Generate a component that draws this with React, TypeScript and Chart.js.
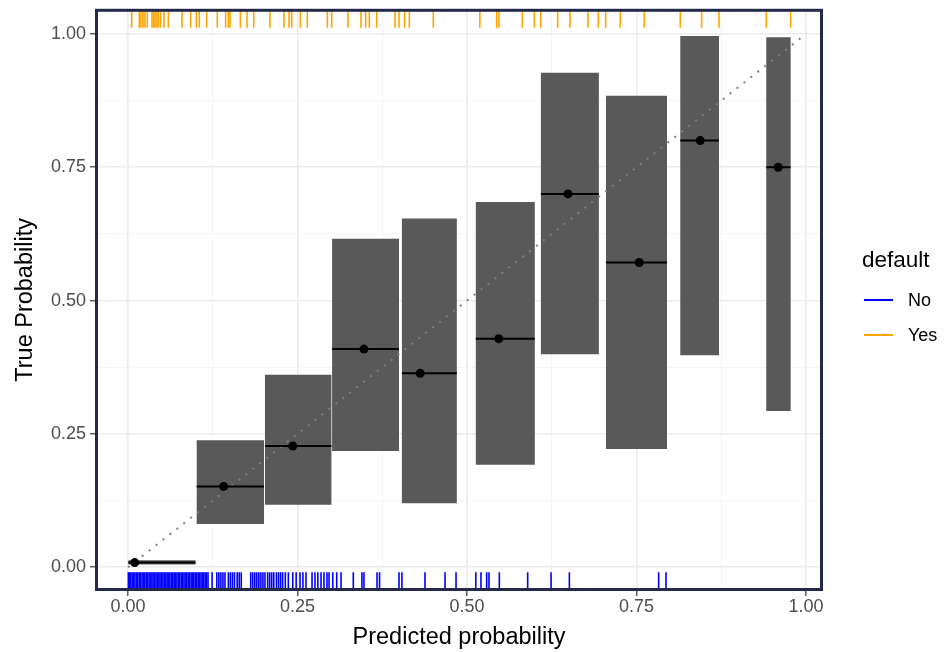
import React, { useEffect, useRef } from "react";
import { Chart, registerables } from "chart.js";
Chart.register(...registerables);

// ---- data ----
const binStart = [0.0005, 0.1013, 0.202, 0.301, 0.404, 0.513, 0.609, 0.705, 0.8146, 0.9414];
const binEnd = [0.0995, 0.2006, 0.300, 0.3997, 0.485, 0.600, 0.6945, 0.795, 0.8717, 0.9774];
const ciLower = [0.005, 0.081, 0.117, 0.218, 0.120, 0.192, 0.3995, 0.2216, 0.3976, 0.293];
const ciUpper = [0.013, 0.238, 0.361, 0.616, 0.654, 0.685, 0.927, 0.884, 0.996, 0.994];
const meanPredicted = [0.0099, 0.141, 0.243, 0.348, 0.431, 0.547, 0.649, 0.754, 0.844, 0.959];
const observedRate = [0.0088, 0.1515, 0.2273, 0.4091, 0.3636, 0.4286, 0.70, 0.5714, 0.80, 0.75];

const rugYes = [
  0.0054, 0.0167, 0.019, 0.022, 0.025, 0.0285, 0.0354, 0.038, 0.040, 0.0428, 0.0447, 0.048,
  0.053, 0.0595, 0.0796, 0.0924, 0.1008, 0.1052, 0.116, 0.1317, 0.144, 0.148, 0.1504, 0.1657,
  0.1755, 0.1854, 0.2094, 0.230, 0.2375, 0.2414, 0.2542, 0.2645, 0.294, 0.3004, 0.3245, 0.3437,
  0.3505, 0.356, 0.3668, 0.3938, 0.3997, 0.408, 0.415, 0.4503, 0.519, 0.5438, 0.5472, 0.5816,
  0.5993, 0.6087, 0.6337, 0.652, 0.6785, 0.6937, 0.7045, 0.7261, 0.7615, 0.8146, 0.8461,
  0.8717, 0.9414, 0.9774,
];

const rugNo = [
  0.0005, 0.002, 0.004, 0.0061, 0.0083, 0.0102, 0.0124, 0.0143, 0.0166, 0.0185, 0.0207, 0.0228,
  0.0246, 0.0269, 0.0287, 0.031, 0.0329, 0.0352, 0.037, 0.0391, 0.0413, 0.0432, 0.0455, 0.0473,
  0.0496, 0.0515, 0.0536, 0.0558, 0.0577, 0.06, 0.0618, 0.0641, 0.066, 0.0681, 0.0703, 0.0722,
  0.0745, 0.0763, 0.0786, 0.0805, 0.0826, 0.0848, 0.0867, 0.089, 0.0908, 0.0931, 0.095, 0.0971,
  0.0993, 0.1012, 0.1035, 0.1053, 0.1076, 0.1095, 0.1116, 0.1138, 0.1157, 0.118,
  0.124, 0.131, 0.134, 0.137, 0.140, 0.143, 0.148, 0.151, 0.154, 0.157, 0.161, 0.164, 0.167,
  0.181, 0.184, 0.187, 0.190, 0.193, 0.196, 0.199, 0.202, 0.206, 0.209, 0.212, 0.215, 0.219,
  0.222, 0.225, 0.228, 0.232, 0.2365, 0.243, 0.248, 0.2537, 0.258, 0.2625, 0.2714, 0.2758,
  0.280, 0.2847, 0.289, 0.2935, 0.2965, 0.302, 0.3078, 0.3142, 0.3323, 0.345, 0.348, 0.3673,
  0.371, 0.3997, 0.404, 0.438, 0.4676, 0.4838, 0.513, 0.5206, 0.529, 0.5324, 0.5477, 0.5895,
  0.624, 0.651, 0.7827, 0.7935,
];

const gridValues = [0, 0.125, 0.25, 0.375, 0.5, 0.625, 0.75, 0.875, 1];
const majorTicks = [0, 0.25, 0.5, 0.75, 1];
const legendTitle = "default";
const legendLabels = ["No", "Yes"];
const legendColors = ["#0000FF", "#FFA500"];
const xTitle = "Predicted probability";
const yTitle = "True Probability";

// ---- layout / style ----
const W = 945;
const H = 652;
const X_MIN = -0.0465;
const X_MAX = 1.0229;
const Y_MIN = -0.0417;
const Y_MAX = 1.0443;
const AREA = { left: 96.5, right: 821.5, top: 8.5, bottom: 589.5 };
const RUG_PX = 17.4;
const FONT = "'Liberation Sans', Arial, Helvetica, sans-serif";

const isMajor = (v: number) => majorTicks.some((m) => Math.abs(m - v) < 1e-9);

const panelBorder = {
  id: "panelBorder",
  afterDraw(chart: any) {
    const { ctx, chartArea } = chart;
    ctx.save();
    ctx.strokeStyle = "#232A49";
    ctx.lineWidth = 3;
    ctx.strokeRect(chartArea.left, chartArea.top, chartArea.right - chartArea.left, chartArea.bottom - chartArea.top);
    ctx.restore();
  },
};

export default function App() {
  const ref = useRef<HTMLCanvasElement | null>(null);

  useEffect(() => {
    if (!ref.current) return;
    const areaH = AREA.bottom - AREA.top;
    const rugHalf = ((RUG_PX / 2) * (Y_MAX - Y_MIN)) / areaH;

    const datasets: any[] = [];
    for (let i = 0; i < binStart.length; i++) {
      datasets.push({
        type: "line",
        data: [
          { x: binStart[i], y: ciLower[i] },
          { x: binEnd[i], y: ciLower[i] },
          { x: binEnd[i], y: ciUpper[i] },
          { x: binStart[i], y: ciUpper[i] },
        ],
        fill: "shape",
        backgroundColor: "#595959",
        borderColor: "rgba(0,0,0,0)",
        borderWidth: 0,
        pointRadius: 0,
        tension: 0,
        order: 10,
      });
    }
    datasets.push({
      type: "line",
      data: [
        { x: 0, y: 0 },
        { x: 1, y: 1 },
      ],
      borderColor: "#7F7F7F",
      borderWidth: 2,
      borderDash: [2, 6.8],
      pointRadius: 0,
      fill: false,
      order: 5,
    });
    for (let i = 0; i < binStart.length; i++) {
      datasets.push({
        type: "line",
        data: [
          { x: binStart[i], y: observedRate[i] },
          { x: binEnd[i], y: observedRate[i] },
        ],
        borderColor: "#000000",
        borderWidth: 2,
        pointRadius: 0,
        fill: false,
        order: 3,
      });
    }
    datasets.push({
      type: "scatter",
      data: meanPredicted.map((x, i) => ({ x, y: observedRate[i] })),
      pointRadius: 4.5,
      backgroundColor: "#000000",
      borderWidth: 0,
      order: 1,
    });
    datasets.push({
      type: "scatter",
      label: legendLabels[0],
      data: rugNo.map((x) => ({ x, y: Y_MIN + rugHalf })),
      pointStyle: "line",
      rotation: 90,
      pointRadius: RUG_PX / 2,
      borderColor: legendColors[0],
      borderWidth: 1.6,
      order: 2,
    });
    datasets.push({
      type: "scatter",
      label: legendLabels[1],
      data: rugYes.map((x) => ({ x, y: Y_MAX - rugHalf })),
      pointStyle: "line",
      rotation: 90,
      pointRadius: RUG_PX / 2,
      borderColor: legendColors[1],
      borderWidth: 1.6,
      order: 2,
    });

    const gridColor = (c: any) => (c.tick && isMajor(c.tick.value) ? "#EBEBEB" : "#F3F3F3");
    const gridWidth = (c: any) => (c.tick && isMajor(c.tick.value) ? 1.6 : 0.8);
    const tickColor = (c: any) => (c.tick && isMajor(c.tick.value) ? "#333333" : "rgba(0,0,0,0)");
    const setTicks = (scale: any) => {
      scale.ticks = gridValues.map((value) => ({ value }));
    };
    const label = (v: any) => (isMajor(Number(v)) ? Number(v).toFixed(2) : "");

    const chart = new Chart(ref.current, {
      type: "scatter",
      data: { datasets },
      plugins: [panelBorder],
      options: {
        responsive: false,
        animation: false,
        events: [],
        layout: { padding: { left: 0, top: AREA.top, right: W - AREA.right, bottom: 0 } },
        plugins: { legend: { display: false }, tooltip: { enabled: false } },
        scales: {
          x: {
            type: "linear",
            min: X_MIN,
            max: X_MAX,
            afterBuildTicks: setTicks,
            afterFit: (s: any) => {
              s.height = H - AREA.bottom;
              s.paddingLeft = 0;
              s.paddingRight = 0;
            },
            border: { display: false },
            grid: { color: gridColor, lineWidth: gridWidth, tickColor, tickLength: 6.5, tickWidth: 1.2 },
            ticks: {
              autoSkip: false,
              maxRotation: 0,
              padding: 0,
              color: "#4D4D4D",
              font: { family: FONT, size: 18 },
              callback: label,
            },
            title: {
              display: true,
              text: xTitle,
              color: "#000000",
              font: { family: FONT, size: 23.5 },
              padding: { top: 2, bottom: 0 },
            },
          },
          y: {
            type: "linear",
            min: Y_MIN,
            max: Y_MAX,
            afterBuildTicks: setTicks,
            afterFit: (s: any) => {
              s.width = AREA.left;
              s.paddingTop = 0;
              s.paddingBottom = 0;
            },
            border: { display: false },
            grid: { color: gridColor, lineWidth: gridWidth, tickColor, tickLength: 6.5, tickWidth: 1.2 },
            ticks: {
              autoSkip: false,
              padding: 4,
              color: "#4D4D4D",
              font: { family: FONT, size: 18 },
              callback: label,
            },
            title: {
              display: true,
              text: yTitle,
              color: "#000000",
              font: { family: FONT, size: 23.5 },
              padding: { top: 11.5, bottom: 0 },
            },
          },
        },
      } as any,
    });
    return () => chart.destroy();
  }, []);

  const legendText: React.CSSProperties = {
    position: "absolute",
    fontFamily: FONT,
    color: "#000000",
    whiteSpace: "nowrap",
    lineHeight: 1,
  };

  return (
    <div style={{ position: "fixed", left: 0, top: 0, width: W, height: H, background: "#FFFFFF" }}>
      <canvas ref={ref} width={W} height={H} style={{ position: "absolute", left: 0, top: 0, width: W, height: H }} />
      <div style={{ ...legendText, left: 862, top: 248.5, fontSize: 22.5 }}>{legendTitle}</div>
      {legendLabels.map((lab, i) => (
        <React.Fragment key={lab}>
          <div
            style={{
              position: "absolute",
              left: 864,
              top: 299 + i * 35,
              width: 29,
              height: 2,
              background: legendColors[i],
            }}
          />
          <div style={{ ...legendText, left: 908, top: 291 + i * 35, fontSize: 18 }}>{lab}</div>
        </React.Fragment>
      ))}
    </div>
  );
}
